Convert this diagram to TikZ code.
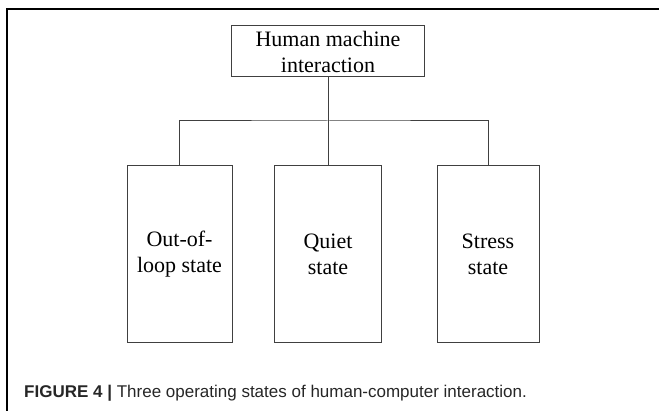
\documentclass[tikz,border=0pt]{standalone}
\usepackage{fontspec}
\setmainfont{Liberation Serif}
\newfontfamily\capfont{Liberation Sans}
\usetikzlibrary{positioning}
\definecolor{line}{HTML}{404040}

\tikzset{
  state/.style={draw=line, line width=1pt, align=center, inner sep=0pt,
    font=\fontsize{22}{26}\selectfont},
}

\begin{document}
\begin{tikzpicture}[x=1pt, y=-1pt]
      \useasboundingbox (0,0) rectangle (659,411);
      \draw[line width=1.5pt] (659,9) -- (7,9) -- (7,411);

      \node[state, minimum width=193pt, minimum height=51pt] (hmi) at (328,51.5) {Human machine\\interaction};

      \node[state, minimum width=105pt, minimum height=177pt] (out) at (179.5,254.5) {Out-of-\\loop state};
      \node[state, minimum width=107pt, minimum height=177pt] (quiet) at (328,254.5) {Quiet\\state};
      \node[state, minimum width=102pt, minimum height=177pt] (stress) at (488,254.5) {Stress\\state};

      \coordinate (bus) at (328,121);
      \draw[line, line width=1pt] (hmi.south) -- (quiet.north);
      \draw[line, line width=1pt] (out.north) |- (bus) -| (stress.north);

      \node[anchor=base west, inner sep=0pt, text=black!85, font=\capfont\fontsize{17}{20}\selectfont] (cap) at (24,397.7)
        {\textbf{FIGURE 4 |} Three operating states of human-computer interaction.};
\end{tikzpicture}
\end{document}
